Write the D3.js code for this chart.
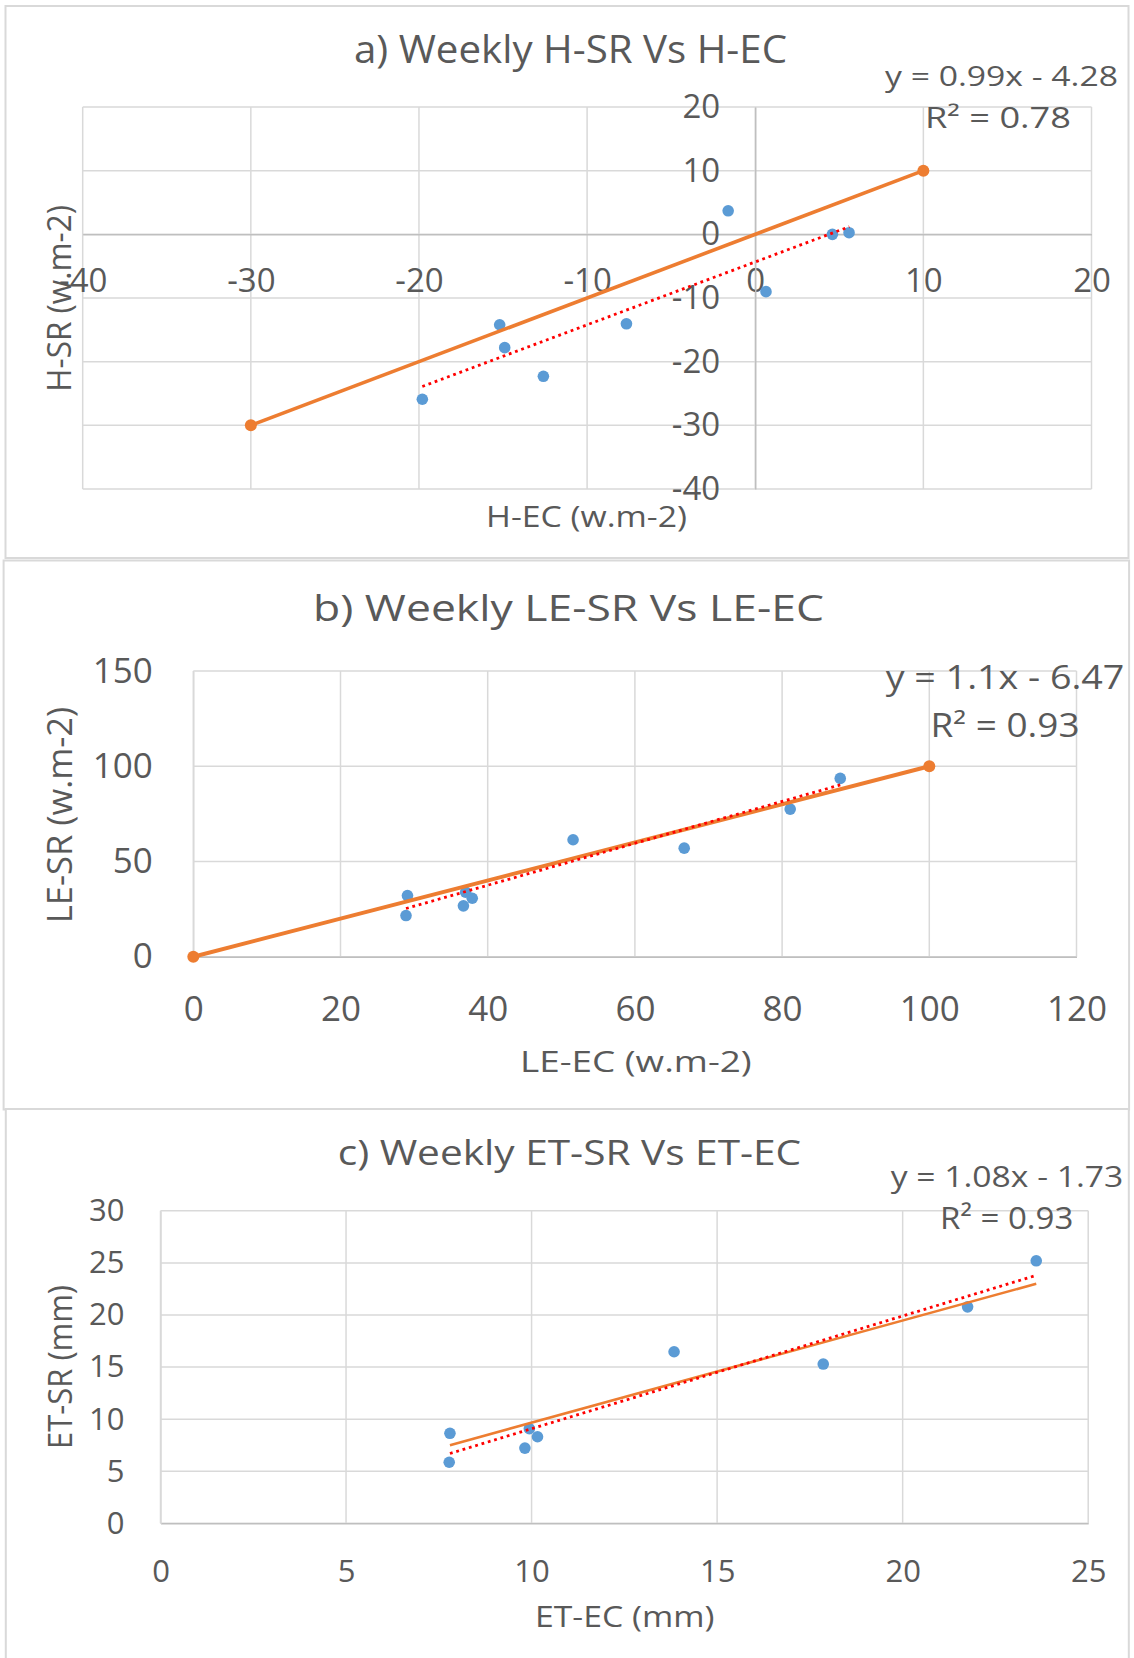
<!DOCTYPE html>
<html>
<head>
<meta charset="utf-8">
<script src="https://cdn.jsdelivr.net/npm/d3@7"></script>
<style>
  body { margin: 0; background: #fff; }
  svg { display: block; font-family: "Open Sans", sans-serif; }
</style>
</head>
<body>
<svg width="1134" height="1658"></svg>
<script>
// Данные, снятые с графика
// a) H
const hEC = [-19.8, -15.2, -14.9, -12.6, -7.66, -1.61, 0.64, 4.59, 5.58];
const hSR = [-25.9, -14.2, -17.8, -22.3, -14.05, 3.7, -9.0, 0.0, 0.26];
const lineA = [[-30, -30], [10, 10]];
const trendA = [[-19.8, -23.9], [5.6, 1.2]];
const ticksA = [-40, -30, -20, -10, 0, 10, 20];

// b) LE
const leEC = [28.9, 29.1, 36.7, 37.0, 37.9, 51.6, 66.7, 81.1, 87.9];
const leSR = [21.6, 32.1, 26.7, 33.9, 30.7, 61.4, 57.0, 77.5, 93.6];
const lineB = [[0, 0], [100, 100]];
const trendB = [[28.9, 25.3], [87.9, 90.2]];
const ticksBX = [0, 20, 40, 60, 80, 100, 120];
const ticksBY = [0, 50, 100, 150];

// c) ET
const etEC = [7.78, 7.80, 9.82, 9.94, 10.16, 13.84, 17.86, 21.75, 23.6];
const etSR = [5.86, 8.64, 7.22, 9.08, 8.31, 16.47, 15.29, 20.78, 25.2];
const lineC = [[7.8, 7.5], [23.6, 23.0]];
const trendC = [[7.8, 6.7], [23.6, 23.8]];
const ticksCX = [0, 5, 10, 15, 20, 25];
const ticksCY = [0, 5, 10, 15, 20, 25, 30];

// подписи
const titles = ["a) Weekly H-SR Vs H-EC", "b) Weekly LE-SR Vs LE-EC", "c) Weekly ET-SR Vs ET-EC"];
const xLabels = ["H-EC (w.m-2)", "LE-EC (w.m-2)", "ET-EC (mm)"];
const yLabels = ["H-SR (w.m-2)", "LE-SR (w.m-2)", "ET-SR (mm)"];
const equations = ["y = 0.99x - 4.28", "y = 1.1x - 6.47", "y = 1.08x - 1.73"];
const r2Labels = ["R\u00B2 = 0.78", "R\u00B2 = 0.93", "R\u00B2 = 0.93"];

const textColor = "#595959";
const gridColor = "#D9D9D9";
const axisColor = "#BFBFBF";
const blue = "#5B9BD5";
const orange = "#ED7D31";

const svg = d3.select("svg");

const panels = [
  { box: [5.5, 6, 1123, 552], xs: hEC, ys: hSR, ref: lineA, refW: 3.6, markers: true, trend: trendA,
    domX: [-40, 20], domY: [-40, 20], rangeX: [82.7, 1091.5], rangeY: [489, 107],
    ticksX: ticksA, ticksY: ticksA, cross: true, tickFont: 33, padX: 34, padY: 35,
    title: [354, 787, 62.7, 38], eq: [885, 1118, 86, 28], r2: [925, 1071, 128, 29],
    xLab: [486, 687, 527, 29], yLab: [70.7, 205, 391.7, 32] },
  { box: [3.6, 560.5, 1125.5, 549], xs: leEC, ys: leSR, ref: lineB, refW: 4, markers: true, trend: trendB,
    domX: [0, 120], domY: [0, 150], rangeX: [193.3, 1076.5], rangeY: [956.7, 671],
    ticksX: ticksBX, ticksY: ticksBY, cross: false, tickFont: 35, padX: 39, padY: 40.6,
    title: [313, 824, 621, 37], eq: [885.7, 1124.4, 689, 32], r2: [930.6, 1079.5, 737, 32],
    xLab: [520, 751.7, 1071.7, 30], yLab: [71.7, 706.7, 923.3, 34] },
  { box: [5.8, 1109, 1123, 560], xs: etEC, ys: etSR, ref: lineC, refW: 2.6, markers: false, trend: trendC,
    domX: [0, 25], domY: [0, 30], rangeX: [160.5, 1088.2], rangeY: [1523.3, 1210.8],
    ticksX: ticksCX, ticksY: ticksCY, cross: false, tickFont: 31, padX: 36.7, padY: 36,
    title: [337.7, 801.2, 1165, 34], eq: [890.7, 1123.3, 1186.7, 29], r2: [940, 1073.3, 1229.3, 31],
    xLab: [535, 714.4, 1627, 30], yLab: [72.3, 1285, 1449, 32] }
];

function addText(g, str, spec) {
  const [x1, x2, y, size] = spec;
  g.append("text")
    .attr("x", (x1 + x2) / 2)
    .attr("y", y)
    .attr("text-anchor", "middle")
    .attr("textLength", x2 - x1)
    .attr("lengthAdjust", "spacingAndGlyphs")
    .style("font-size", size + "px")
    .style("fill", textColor)
    .text(str);
}

function drawPanel(p, i) {
  const g = svg.append("g");

  // рамка панели
  g.append("rect")
    .attr("x", p.box[0]).attr("y", p.box[1])
    .attr("width", p.box[2]).attr("height", p.box[3])
    .style("fill", "#fff")
    .style("stroke", gridColor)
    .style("stroke-width", 2);

  const scX = d3.scaleLinear().domain(p.domX).range(p.rangeX);
  const scY = d3.scaleLinear().domain(p.domY).range(p.rangeY);

  // сетка
  g.selectAll(".gx")
    .data(p.ticksX)
    .enter()
    .append("line")
    .attr("x1", d => scX(d)).attr("x2", d => scX(d))
    .attr("y1", p.rangeY[0]).attr("y2", p.rangeY[1])
    .style("stroke", gridColor)
    .style("stroke-width", 1.5);

  g.selectAll(".gy")
    .data(p.ticksY)
    .enter()
    .append("line")
    .attr("x1", p.rangeX[0]).attr("x2", p.rangeX[1])
    .attr("y1", d => scY(d)).attr("y2", d => scY(d))
    .style("stroke", gridColor)
    .style("stroke-width", 1.5);

  // оси (в панели a пересекаются в нуле)
  const yPos = p.cross ? scY(0) : p.rangeY[0];
  const xPos = p.cross ? scX(0) : p.rangeX[0];

  // обычный дефис вместо знака минус, как в Excel
  const fmt = d => String(d);
  const axisX = d3.axisBottom(scX).tickValues(p.ticksX).tickFormat(fmt).tickSize(0).tickPadding(p.padX);
  const axisY = d3.axisLeft(scY).tickValues(p.ticksY).tickFormat(fmt).tickSize(0).tickPadding(p.padY);

  const gx = g.append("g")
    .attr("transform", `translate(0, ${yPos})`)
    .call(axisX);
  const gy = g.append("g")
    .attr("transform", `translate(${xPos}, 0)`)
    .call(axisY);

  [gx, gy].forEach(a => {
    a.attr("font-family", null).attr("font-size", null);
    a.select(".domain")
      .style("stroke", p.cross || a === gx ? axisColor : gridColor)
      .style("stroke-width", 1.5);
    a.selectAll("text")
      .style("font-size", p.tickFont + "px")
      .style("fill", textColor);
  });

  // точки
  const pts = p.xs.map((x, k) => [x, p.ys[k]]);
  g.selectAll(".dot")
    .data(pts)
    .enter()
    .append("circle")
    .attr("cx", d => scX(d[0]))
    .attr("cy", d => scY(d[1]))
    .attr("r", 5.8)
    .style("fill", blue);

  const line = d3.line()
    .x(d => scX(d[0]))
    .y(d => scY(d[1]));

  // оранжевая линия
  g.append("path")
    .datum(p.ref)
    .attr("d", line)
    .style("fill", "none")
    .style("stroke", orange)
    .style("stroke-width", p.refW);

  if (p.markers) {
    g.selectAll(".mk")
      .data(p.ref)
      .enter()
      .append("circle")
      .attr("cx", d => scX(d[0]))
      .attr("cy", d => scY(d[1]))
      .attr("r", 6)
      .style("fill", orange);
  }

  // линия тренда - красный пунктир
  g.append("path")
    .datum(p.trend)
    .attr("d", line)
    .style("fill", "none")
    .style("stroke", "#FF0000")
    .style("stroke-width", 2.8)
    .style("stroke-dasharray", "2.8,3.8");

  // подписи
  addText(g, titles[i], p.title);
  addText(g, equations[i], p.eq);
  addText(g, r2Labels[i], p.r2);
  addText(g, xLabels[i], p.xLab);

  const [lx, ly1, ly2, lsize] = p.yLab;
  g.append("text")
    .attr("transform", `translate(${lx}, ${(ly1 + ly2) / 2}) rotate(-90)`)
    .attr("text-anchor", "middle")
    .attr("textLength", ly2 - ly1)
    .attr("lengthAdjust", "spacingAndGlyphs")
    .style("font-size", lsize + "px")
    .style("fill", textColor)
    .text(yLabels[i]);
}

panels.forEach((p, i) => drawPanel(p, i));
</script>
</body>
</html>
